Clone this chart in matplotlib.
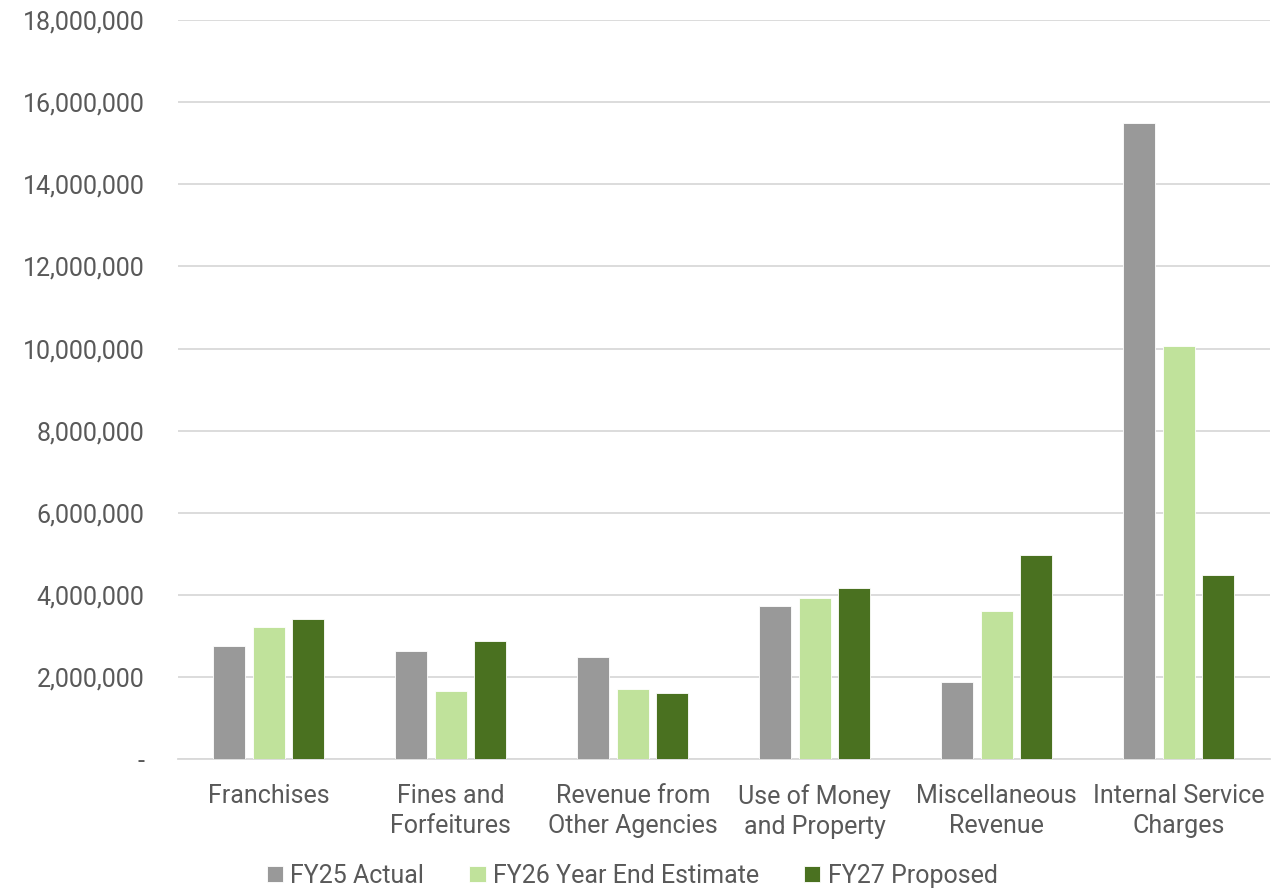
import numpy as np
import matplotlib.pyplot as plt
from matplotlib.ticker import FuncFormatter, MultipleLocator

plt.rcParams['font.family'] = ['Roboto', 'DejaVu Sans']

categories = ['Franchises', 'Fines and\nForfeitures', 'Revenue from\nOther Agencies',
              'Use of Money\nand Property', 'Miscellaneous\nRevenue', 'Internal Service\nCharges']
fy25_actual = [2750000, 2640000, 2500000, 3720000, 1870000, 15490000]
fy26_estimate = [3230000, 1670000, 1700000, 3920000, 3610000, 10070000]
fy27_proposed = [3420000, 2880000, 1620000, 4160000, 4970000, 4490000]

series = [('FY25 Actual', fy25_actual, '#999999'),
          ('FY26 Year End Estimate', fy26_estimate, '#c0e29b'),
          ('FY27 Proposed', fy27_proposed, '#4a7120')]

text_color = '#595959'
grid_color = '#d9d9d9'
fs = 18

fig = plt.figure(figsize=(12.85, 8.9), dpi=100)
ax = fig.add_axes([0.1385, 0.147, 0.8495, 0.8305])

x = np.arange(len(categories))
width = 0.176
step = 0.217
for i, (name, vals, color) in enumerate(series):
    ax.bar(x + (i - 1) * step, vals, width, color=color, label=name,
           edgecolor='white', linewidth=0.6, zorder=3)

ax.set_xlim(-0.5, len(categories) - 0.5)
ax.set_ylim(0, 18000000)
ax.yaxis.set_major_locator(MultipleLocator(2000000))
ax.yaxis.set_major_formatter(FuncFormatter(lambda v, p: '-' if v == 0 else f'{v:,.0f}'))
ax.grid(axis='y', color=grid_color, linewidth=1.3, zorder=0)

ax.set_xticks(x)
ax.set_xticklabels(categories, fontsize=fs, color=text_color, linespacing=1.3)
ax.tick_params(axis='x', length=0, pad=18)
ax.tick_params(axis='y', length=0, pad=24, labelsize=fs, labelcolor=text_color)

for side in ['top', 'right', 'left']:
    ax.spines[side].set_visible(False)
ax.spines['bottom'].set_color(grid_color)
ax.spines['bottom'].set_linewidth(1.3)

fig.legend(loc='center', bbox_to_anchor=(0.492, 0.016), ncol=3, frameon=False,
           fontsize=fs, labelcolor=text_color, handlelength=0.65, handleheight=0.65,
           handletextpad=0.3, columnspacing=1.8)

fig.savefig('out.png', dpi=100)
